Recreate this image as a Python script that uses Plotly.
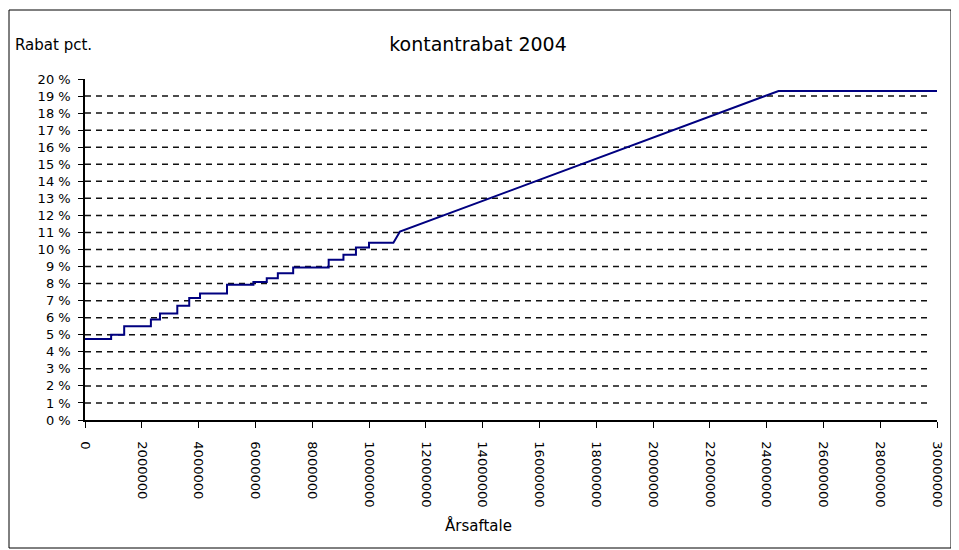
import plotly.graph_objects as go

# Step points of the discount curve (x = annual agreement in DKK, y = discount in %)
aarsaftale = [0, 920000, 920000, 1380000, 1380000, 2320000, 2320000, 2640000, 2640000,
              3250000, 3250000, 3670000, 3670000, 4050000, 4050000, 5000000, 5000000,
              5930000, 5930000, 6400000, 6400000, 6790000, 6790000, 7330000, 7330000,
              8580000, 8580000, 9100000, 9100000, 9540000, 9540000, 10000000, 10000000,
              10860000, 11090000, 24420000, 30000000]
rabat_pct = [4.75, 4.75, 5.0, 5.0, 5.5, 5.5, 5.9, 5.9, 6.25,
             6.25, 6.7, 6.7, 7.15, 7.15, 7.42, 7.42, 7.93,
             7.93, 8.1, 8.1, 8.32, 8.32, 8.6, 8.6, 8.95,
             8.95, 9.4, 9.4, 9.69, 9.69, 10.12, 10.12, 10.4,
             10.4, 11.05, 19.3, 19.3]

x_ticks = list(range(0, 30000001, 2000000))
x_tick_labels = [str(v) for v in x_ticks]
y_ticks = list(range(0, 21))
y_tick_labels = [f"{v} %" for v in y_ticks]

title_text = "kontantrabat 2004"
y_title = "Rabat pct."
x_title = "Årsaftale"

FONT = "DejaVu Sans"

# the page body has an 8px margin, so the figure is laid out 8px smaller
W, H = 950, 541
L, T = 77, 71           # plot area left / top inside the figure
PW, PH = 852, 341       # plot area width / height

fig = go.Figure()
fig.add_trace(go.Scatter(
    x=aarsaftale, y=rabat_pct, mode="lines",
    line=dict(color="#000080", width=2),
    showlegend=False, hoverinfo="skip",
))

# dashed horizontal gridlines at every whole percent except the axis ends
shapes = []
for v in y_ticks[1:-1]:
    shapes.append(dict(type="line", xref="paper", yref="y", x0=0, x1=0.994, y0=v, y1=v,
                       line=dict(color="#111111", width=1.5, dash="6px,5px"), layer="below"))
# outer frame of the chart
shapes.append(dict(type="rect", xref="paper", yref="paper",
                   x0=(1 - L) / PW, x1=(943 - L) / PW,
                   y0=(T + PH - 540) / PH, y1=(T + PH - 2) / PH,
                   line=dict(color="#000000", width=1), fillcolor="rgba(0,0,0,0)"))

fig.update_layout(
    width=W, height=H,
    margin=dict(l=L, r=W - L - PW, t=T, b=H - T - PH),
    paper_bgcolor="white", plot_bgcolor="white",
    font=dict(family=FONT, color="#000000", size=12),
    title=dict(text=title_text, x=470 / W, xref="container", y=1 - 36 / H,
               yref="container", xanchor="center", yanchor="middle",
               font=dict(family=FONT, size=19, color="#000000")),
    shapes=shapes,
    annotations=[
        dict(text=y_title, xref="paper", yref="paper", x=(5 - L) / PW,
             y=(T + PH - 37) / PH, xanchor="left", yanchor="middle", showarrow=False,
             font=dict(family=FONT, size=15)),
        dict(text=x_title, xref="paper", yref="paper", x=(470 - L) / PW,
             y=(T + PH - 517) / PH, xanchor="center", yanchor="middle", showarrow=False,
             font=dict(family=FONT, size=15)),
    ],
)

fig.update_xaxes(
    range=[0, 30000000], tickvals=x_ticks, ticktext=x_tick_labels,
    tickangle=90, ticks="outside", ticklen=6, tickcolor="#000000",
    showline=True, linecolor="#000000", linewidth=1.5,
    showgrid=False, zeroline=False, tickfont=dict(size=13),
    ticklabelstandoff=11,
)
fig.update_yaxes(
    range=[0, 20], tickvals=y_ticks, ticktext=y_tick_labels,
    ticks="outside", ticklen=5, tickcolor="#000000",
    showline=True, linecolor="#000000", linewidth=1.5,
    showgrid=False, zeroline=False, tickfont=dict(size=13),
    ticklabelstandoff=5,
)

fig.write_html("out.html")
